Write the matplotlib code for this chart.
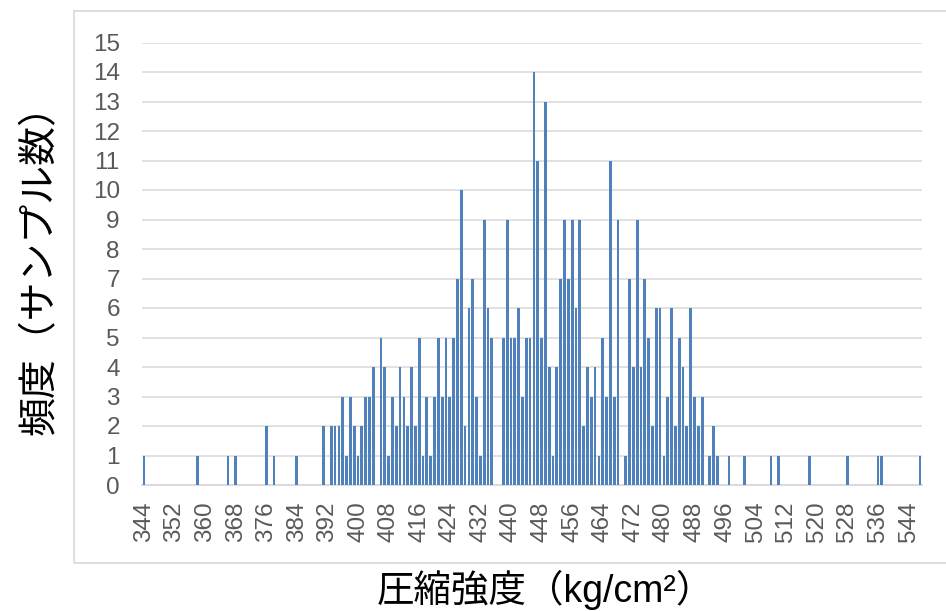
import matplotlib.pyplot as plt
import matplotlib.patches as patches
import numpy as np

# latin text in an Arial-like font, japanese falls back to Noto CJK
plt.rcParams['font.family'] = ['Liberation Sans', 'Noto Sans CJK JP']

# compressive strength values that have samples, and how many
strength = [344, 358, 366, 368, 376, 378, 384,
            391, 393, 394, 395, 396, 397, 398, 399, 400, 401, 402, 403, 404,
            406, 407, 408, 409, 410, 411, 412, 413, 414, 415, 416, 417, 418,
            419, 420, 421, 422, 423, 424, 425, 426, 427, 428, 429, 430, 431,
            432, 433, 434, 435,
            438, 439, 440, 441, 442, 443, 444, 445, 446, 447, 448, 449, 450,
            451, 452, 453, 454, 455, 456, 457, 458, 459, 460, 461, 462, 463,
            464, 465, 466, 467, 468,
            470, 471, 472, 473, 474, 475, 476, 477, 478, 479, 480, 481, 482,
            483, 484, 485, 486, 487, 488, 489, 490,
            492, 493, 494, 497, 501, 508, 510, 518, 528, 536, 537, 547]
counts = [1, 1, 1, 1, 2, 1, 1,
          2, 2, 2, 2, 3, 1, 3, 2, 1, 2, 3, 3, 4,
          5, 4, 1, 3, 2, 4, 3, 2, 4, 2, 5, 1, 3,
          1, 3, 5, 3, 5, 3, 5, 7, 10, 2, 6, 7, 3,
          1, 9, 6, 5,
          5, 9, 5, 5, 6, 3, 5, 5, 14, 11, 5, 13, 4,
          1, 4, 7, 9, 7, 9, 6, 9, 2, 4, 3, 4, 1,
          5, 3, 11, 3, 9,
          1, 7, 4, 9, 4, 7, 5, 2, 6, 6, 1, 3, 6,
          2, 5, 4, 2, 6, 3, 2, 3,
          1, 2, 1, 1, 1, 1, 1, 1, 1, 1, 1, 1]

# every category on the axis, zero where there was no sample
first_cat = 344
last_cat = 547
categories = np.arange(first_cat, last_cat + 1)
freq = np.zeros(len(categories))
for s, c in zip(strength, counts):
    freq[s - first_cat] = c

tick_labels = list(range(344, 545, 8))

fig = plt.figure(figsize=(9.46, 6.11), dpi=100)
ax = fig.add_axes([142 / 946, 1 - 485 / 611, (922 - 142) / 946, (485 - 42.5) / 611])

ax.bar(categories, freq, width=0.72, color='#4F81BD', zorder=3)

ax.set_xlim(first_cat - 0.5, last_cat + 0.5)
ax.set_ylim(0, 15)
ax.set_yticks(range(0, 16))
ax.set_xticks(tick_labels)
ax.set_xticklabels([str(t) for t in tick_labels], rotation=90)

ax.grid(axis='y', color='#d9d9d9', linewidth=1.1, zorder=0)
ax.tick_params(axis='both', length=0, labelsize=17.5, colors='#595959')
ax.tick_params(axis='x', pad=12)
ax.tick_params(axis='y', pad=16)
for side in ['top', 'right', 'left']:
    ax.spines[side].set_visible(False)
ax.spines['bottom'].set_color('#d9d9d9')
ax.spines['bottom'].set_linewidth(1.3)

# chart area border (light gray box)
fig.patches.append(patches.Rectangle((74 / 946, 1 - 563 / 611), 1, (563 - 11) / 611,
                                     transform=fig.transFigure, fill=False,
                                     edgecolor='#d9d9d9', linewidth=1.2))

fig.text(545 / 946, 1 - 590 / 611, '圧縮強度（kg/cm²）', fontsize=27,
         ha='center', va='center', color='black')
fig.text(40 / 946, 1 - 260 / 611, '頻度（サンプル数）', fontsize=28,
         rotation=90, ha='center', va='center', color='black')

fig.savefig('out.png', dpi=100)
